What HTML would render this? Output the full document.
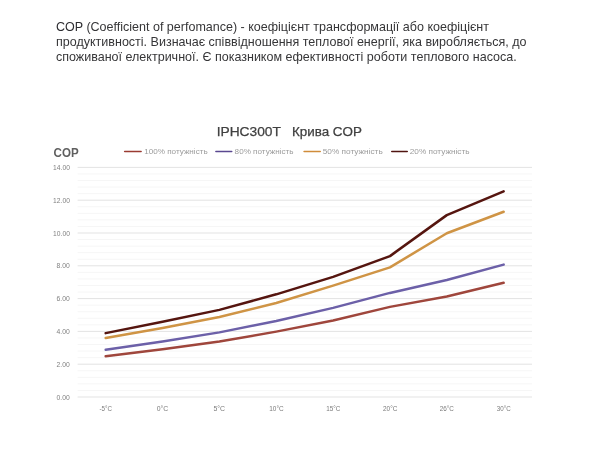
<!DOCTYPE html>
<html><head><meta charset="utf-8"><style>
html,body{margin:0;padding:0;background:#fff;}
body{width:600px;height:461px;position:relative;overflow:hidden;font-family:"Liberation Sans",sans-serif;}
p{position:absolute;left:56px;top:19.8px;width:490px;margin:0;font-size:12.53px;line-height:14.8px;will-change:transform;color:#363638;}
p b{font-weight:normal;color:#2c2c30;}
svg{position:absolute;left:0;top:0;filter:blur(0.35px);}
svg text{font-family:"Liberation Sans",sans-serif;}
</style></head><body>
<p><b>COP</b> (Coefficient of perfomance) - коефіцієнт трансформації або коефіцієнт продуктивності. Визначає співвідношення теплової енергії, яка виробляється, до споживаної електричної. Є показником ефективності роботи теплового насоса.</p>
<svg width="600" height="461" viewBox="0 0 600 461">
<line x1="77.6" x2="532.0" y1="390.44" y2="390.44" stroke="#f6f6f6" stroke-width="1"/>
<line x1="77.6" x2="532.0" y1="383.88" y2="383.88" stroke="#f6f6f6" stroke-width="1"/>
<line x1="77.6" x2="532.0" y1="377.32" y2="377.32" stroke="#f6f6f6" stroke-width="1"/>
<line x1="77.6" x2="532.0" y1="370.76" y2="370.76" stroke="#f6f6f6" stroke-width="1"/>
<line x1="77.6" x2="532.0" y1="357.64" y2="357.64" stroke="#f6f6f6" stroke-width="1"/>
<line x1="77.6" x2="532.0" y1="351.08" y2="351.08" stroke="#f6f6f6" stroke-width="1"/>
<line x1="77.6" x2="532.0" y1="344.52" y2="344.52" stroke="#f6f6f6" stroke-width="1"/>
<line x1="77.6" x2="532.0" y1="337.96" y2="337.96" stroke="#f6f6f6" stroke-width="1"/>
<line x1="77.6" x2="532.0" y1="324.84" y2="324.84" stroke="#f6f6f6" stroke-width="1"/>
<line x1="77.6" x2="532.0" y1="318.28" y2="318.28" stroke="#f6f6f6" stroke-width="1"/>
<line x1="77.6" x2="532.0" y1="311.72" y2="311.72" stroke="#f6f6f6" stroke-width="1"/>
<line x1="77.6" x2="532.0" y1="305.16" y2="305.16" stroke="#f6f6f6" stroke-width="1"/>
<line x1="77.6" x2="532.0" y1="292.04" y2="292.04" stroke="#f6f6f6" stroke-width="1"/>
<line x1="77.6" x2="532.0" y1="285.48" y2="285.48" stroke="#f6f6f6" stroke-width="1"/>
<line x1="77.6" x2="532.0" y1="278.92" y2="278.92" stroke="#f6f6f6" stroke-width="1"/>
<line x1="77.6" x2="532.0" y1="272.36" y2="272.36" stroke="#f6f6f6" stroke-width="1"/>
<line x1="77.6" x2="532.0" y1="259.24" y2="259.24" stroke="#f6f6f6" stroke-width="1"/>
<line x1="77.6" x2="532.0" y1="252.68" y2="252.68" stroke="#f6f6f6" stroke-width="1"/>
<line x1="77.6" x2="532.0" y1="246.12" y2="246.12" stroke="#f6f6f6" stroke-width="1"/>
<line x1="77.6" x2="532.0" y1="239.56" y2="239.56" stroke="#f6f6f6" stroke-width="1"/>
<line x1="77.6" x2="532.0" y1="226.44" y2="226.44" stroke="#f6f6f6" stroke-width="1"/>
<line x1="77.6" x2="532.0" y1="219.88" y2="219.88" stroke="#f6f6f6" stroke-width="1"/>
<line x1="77.6" x2="532.0" y1="213.32" y2="213.32" stroke="#f6f6f6" stroke-width="1"/>
<line x1="77.6" x2="532.0" y1="206.76" y2="206.76" stroke="#f6f6f6" stroke-width="1"/>
<line x1="77.6" x2="532.0" y1="193.64" y2="193.64" stroke="#f6f6f6" stroke-width="1"/>
<line x1="77.6" x2="532.0" y1="187.08" y2="187.08" stroke="#f6f6f6" stroke-width="1"/>
<line x1="77.6" x2="532.0" y1="180.52" y2="180.52" stroke="#f6f6f6" stroke-width="1"/>
<line x1="77.6" x2="532.0" y1="173.96" y2="173.96" stroke="#f6f6f6" stroke-width="1"/>
<line x1="77.6" x2="532.0" y1="397.00" y2="397.00" stroke="#e3e3e3" stroke-width="1"/>
<text x="56.56" y="399.50" font-size="7" font-weight="normal" textLength="13.16" lengthAdjust="spacingAndGlyphs" fill="#808080">0.00</text>
<line x1="77.6" x2="532.0" y1="364.20" y2="364.20" stroke="#e3e3e3" stroke-width="1"/>
<text x="56.56" y="366.70" font-size="7" font-weight="normal" textLength="13.16" lengthAdjust="spacingAndGlyphs" fill="#808080">2.00</text>
<line x1="77.6" x2="532.0" y1="331.40" y2="331.40" stroke="#e3e3e3" stroke-width="1"/>
<text x="56.56" y="333.90" font-size="7" font-weight="normal" textLength="13.16" lengthAdjust="spacingAndGlyphs" fill="#808080">4.00</text>
<line x1="77.6" x2="532.0" y1="298.60" y2="298.60" stroke="#e3e3e3" stroke-width="1"/>
<text x="56.56" y="301.10" font-size="7" font-weight="normal" textLength="13.16" lengthAdjust="spacingAndGlyphs" fill="#808080">6.00</text>
<line x1="77.6" x2="532.0" y1="265.80" y2="265.80" stroke="#e3e3e3" stroke-width="1"/>
<text x="56.56" y="268.30" font-size="7" font-weight="normal" textLength="13.16" lengthAdjust="spacingAndGlyphs" fill="#808080">8.00</text>
<line x1="77.6" x2="532.0" y1="233.00" y2="233.00" stroke="#e3e3e3" stroke-width="1"/>
<text x="53.12" y="235.50" font-size="7" font-weight="normal" textLength="16.75" lengthAdjust="spacingAndGlyphs" fill="#808080">10.00</text>
<line x1="77.6" x2="532.0" y1="200.20" y2="200.20" stroke="#e3e3e3" stroke-width="1"/>
<text x="53.12" y="202.70" font-size="7" font-weight="normal" textLength="16.75" lengthAdjust="spacingAndGlyphs" fill="#808080">12.00</text>
<line x1="77.6" x2="532.0" y1="167.40" y2="167.40" stroke="#e3e3e3" stroke-width="1"/>
<text x="53.12" y="169.90" font-size="7" font-weight="normal" textLength="16.75" lengthAdjust="spacingAndGlyphs" fill="#808080">14.00</text>
<text x="99.49" y="411.00" font-size="7.6" font-weight="normal" textLength="12.54" lengthAdjust="spacingAndGlyphs" fill="#7a7a7a">-5°C</text>
<text x="156.67" y="411.00" font-size="7.6" font-weight="normal" textLength="11.55" lengthAdjust="spacingAndGlyphs" fill="#7a7a7a">0°C</text>
<text x="213.47" y="411.00" font-size="7.6" font-weight="normal" textLength="11.66" lengthAdjust="spacingAndGlyphs" fill="#7a7a7a">5°C</text>
<text x="269.28" y="411.00" font-size="7.6" font-weight="normal" textLength="14.41" lengthAdjust="spacingAndGlyphs" fill="#7a7a7a">10°C</text>
<text x="326.28" y="411.00" font-size="7.6" font-weight="normal" textLength="14.10" lengthAdjust="spacingAndGlyphs" fill="#7a7a7a">15°C</text>
<text x="382.99" y="411.00" font-size="7.6" font-weight="normal" textLength="14.40" lengthAdjust="spacingAndGlyphs" fill="#7a7a7a">20°C</text>
<text x="439.69" y="411.00" font-size="7.6" font-weight="normal" textLength="14.19" lengthAdjust="spacingAndGlyphs" fill="#7a7a7a">26°C</text>
<text x="496.80" y="411.00" font-size="7.6" font-weight="normal" textLength="13.88" lengthAdjust="spacingAndGlyphs" fill="#7a7a7a">30°C</text>
<polyline points="105.70,356.23 162.55,349.29 219.40,341.52 276.25,331.63 333.10,320.53 389.95,306.88 446.80,296.45 503.65,282.82" fill="none" stroke="#9f463c" stroke-width="2.5" stroke-linejoin="round" stroke-linecap="round"/>
<polyline points="105.70,349.77 162.55,341.49 219.40,332.37 276.25,321.04 333.10,307.87 389.95,292.91 446.80,280.05 503.65,264.62" fill="none" stroke="#6c60a8" stroke-width="2.5" stroke-linejoin="round" stroke-linecap="round"/>
<polyline points="105.70,338.03 162.55,327.94 219.40,317.02 276.25,302.95 333.10,285.63 389.95,267.33 446.80,233.28 503.65,211.75" fill="none" stroke="#cf9445" stroke-width="2.5" stroke-linejoin="round" stroke-linecap="round"/>
<polyline points="105.70,333.14 162.55,321.74 219.40,309.87 276.25,294.32 333.10,276.84 389.95,256.12 446.80,215.12 503.65,191.38" fill="none" stroke="#55150f" stroke-width="2.5" stroke-linejoin="round" stroke-linecap="round"/>
<line x1="124.69999999999999" x2="141.1" y1="151.5" y2="151.5" stroke="#9a3b32" stroke-width="1.6" stroke-linecap="round"/>
<text x="144.16" y="153.70" font-size="7.5" font-weight="normal" textLength="63.53" lengthAdjust="spacingAndGlyphs" fill="#9c9c9c">100% потужність</text>
<line x1="215.9" x2="231.70000000000002" y1="151.5" y2="151.5" stroke="#5a4890" stroke-width="1.6" stroke-linecap="round"/>
<text x="234.63" y="153.70" font-size="7.5" font-weight="normal" textLength="58.87" lengthAdjust="spacingAndGlyphs" fill="#9c9c9c">80% потужність</text>
<line x1="304.1" x2="320.2" y1="151.5" y2="151.5" stroke="#d08c3a" stroke-width="1.6" stroke-linecap="round"/>
<text x="322.72" y="153.70" font-size="7.5" font-weight="normal" textLength="59.98" lengthAdjust="spacingAndGlyphs" fill="#9c9c9c">50% потужність</text>
<line x1="391.8" x2="407.2" y1="151.5" y2="151.5" stroke="#501410" stroke-width="1.6" stroke-linecap="round"/>
<text x="409.73" y="153.70" font-size="7.5" font-weight="normal" textLength="59.78" lengthAdjust="spacingAndGlyphs" fill="#9c9c9c">20% потужність</text>
<text x="216.68" y="135.70" font-size="13" font-weight="normal" textLength="64.24" lengthAdjust="spacingAndGlyphs" fill="#404040" stroke="#404040" stroke-width="0.25">IPHC300T</text>
<text x="291.97" y="135.70" font-size="13" font-weight="normal" textLength="69.94" lengthAdjust="spacingAndGlyphs" fill="#404040" stroke="#404040" stroke-width="0.25">Крива COP</text>
<text x="53.54" y="156.50" font-size="12.5" font-weight="bold" textLength="25.08" lengthAdjust="spacingAndGlyphs" fill="#5f5f5f">COP</text>
</svg>
</body></html>
